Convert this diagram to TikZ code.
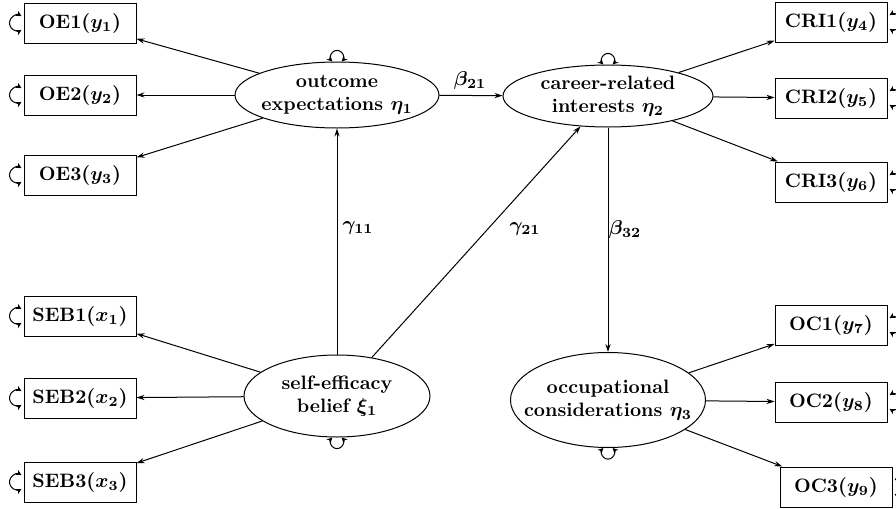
\documentclass[tikz,border=0pt]{standalone}
\usetikzlibrary{shapes.geometric,arrows.meta}
\begin{document}
\begin{tikzpicture}[x=0.5pt,y=-0.5pt,
  every node/.style={font=\fontsize{9.7}{11.5}\selectfont\bfseries\boldmath},
  obs/.style={draw,rectangle,minimum width=56pt,minimum height=20pt,inner sep=0pt,line width=0.5pt},
  lat/.style={draw,ellipse,inner xsep=-25pt,inner ysep=-8pt,align=center,line width=0.5pt},
  pathsty/.style={-{Stealth[length=4pt,width=2.6pt]},line width=0.5pt},
  loopsty/.style={{Stealth[length=2.8pt,width=2.8pt]}-{Stealth[length=2.8pt,width=2.8pt]},line width=0.5pt},
  lab/.style={font=\fontsize{9.7}{11.5}\selectfont\boldmath}
]
\useasboundingbox (0,0) rectangle (896,509);

% latent variables
\node[lat,minimum width=102pt,minimum height=33pt] (eta1) at (337,95) {outcome\\expectations $\eta_1$};
\node[lat,minimum width=105pt,minimum height=31pt] (eta2) at (608,96) {career-related\\interests $\eta_2$};
\node[lat,minimum width=93pt,minimum height=41pt] (xi1) at (337,396) {self-efficacy\\belief $\xi_1$};
\node[lat,minimum width=97.5pt,minimum height=47.5pt] (eta3) at (608,400) {occupational\\considerations $\eta_3$};

% observed variables
\node[obs] (y1) at (80,23) {OE1$(y_1)$};
\node[obs] (y2) at (80,95) {OE2$(y_2)$};
\node[obs] (y3) at (80,175) {OE3$(y_3)$};
\node[obs] (x1) at (80,316) {SEB1$(x_1)$};
\node[obs] (x2) at (80,398) {SEB2$(x_2)$};
\node[obs] (x3) at (80,482) {SEB3$(x_3)$};
\node[obs] (y4) at (831,22) {CRI1$(y_4)$};
\node[obs] (y5) at (831,98) {CRI2$(y_5)$};
\node[obs] (y6) at (831,182) {CRI3$(y_6)$};
\node[obs] (y7) at (831,325) {OC1$(y_7)$};
\node[obs] (y8) at (831,402) {OC2$(y_8)$};
\node[obs] (y9) at (836,487) {OC3$(y_9)$};

% measurement paths
\foreach \t in {y1,y2,y3} \draw[pathsty] (eta1) -- (\t);
\foreach \t in {x1,x2,x3} \draw[pathsty] (xi1) -- (\t);
\foreach \t in {y4,y5,y6} \draw[pathsty] (eta2) -- (\t);
\foreach \t in {y7,y8,y9} \draw[pathsty] (eta3) -- (\t);

% structural paths
\draw[pathsty] (eta1) -- (eta2);
\draw[pathsty] (xi1) -- (eta1);
\draw[pathsty] (xi1) -- (eta2);
\draw[pathsty] (eta2) -- (eta3);

% path labels
\node[lab] (b21) at (470,80) {$\beta_{21}$};
\node[lab] (g11) at (358,228) {$\gamma_{11}$};
\node[lab] (g21) at (525,229) {$\gamma_{21}$};
\node[lab] (b32) at (625,229) {$\beta_{32}$};

% variance loops
\begin{scope}[x=1pt,y=1pt]
\foreach \n in {eta1,eta2}
  \draw[loopsty] ([xshift=-2.3pt]\n.north) arc[start angle=225,end angle=-45,radius=3.25pt];
\foreach \n in {xi1,eta3}
  \draw[loopsty] ([xshift=-2.3pt]\n.south) arc[start angle=135,end angle=405,radius=3.25pt];
\foreach \n in {y1,y2,y3,x1,x2,x3}
  \draw[loopsty] ([xshift=-1pt,yshift=3.46pt]\n.west) arc[start angle=60,end angle=300,radius=4pt];
\foreach \n in {y4,y5,y6,y7,y8,y9}
  \draw[loopsty] ([xshift=1pt,yshift=3.46pt]\n.east) arc[start angle=120,end angle=-120,radius=4pt];
\end{scope}
\end{tikzpicture}
\end{document}
